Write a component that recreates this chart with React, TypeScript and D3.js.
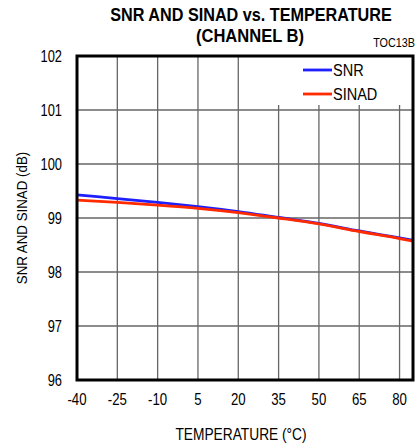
import React from "react";
import * as d3 from "d3";

const temps = [-40, -25, -10, 5, 20, 35, 50, 65, 80, 85];
const snr = [99.43, 99.36, 99.29, 99.21, 99.12, 99.01, 98.9, 98.76, 98.63, 98.59];
const sinad = [99.33, 99.29, 99.24, 99.18, 99.1, 99.0, 98.89, 98.75, 98.62, 98.57];
const xTicks = [-40, -25, -10, 5, 20, 35, 50, 65, 80];
const yTicks = [96, 97, 98, 99, 100, 101, 102];
const seriesNames = ["SNR", "SINAD"];
const seriesColors = ["#1f1fff", "#ff2a00"];

const W = 418, H = 445;
const L = 77, R = 413, T = 56, B = 380;
const FONT = "'Liberation Sans', Arial, sans-serif";

function NText(props: any) {
  const { x, y, size, anchor = "start", weight = "normal", sx = 0.84, rotate = 0, children, fill = "#000" } = props;
  const tr = `translate(${x},${y})` + (rotate ? ` rotate(${rotate})` : "") + ` scale(${sx},1)`;
  return (
    <text transform={tr} fontFamily={FONT} fontSize={size} fontWeight={weight} textAnchor={anchor} fill={fill}>
      {children}
    </text>
  );
}

export default function App() {
  const x = d3.scaleLinear().domain([-40, 85]).range([L, R]);
  const y = d3.scaleLinear().domain([96, 102]).range([B, T]);
  const line = d3
    .line<number>()
    .x((_, i) => x(temps[i]))
    .y((d) => y(d))
    .curve(d3.curveMonotoneX);
  const data = [snr, sinad];

  return (
    <svg width={W} height={H} style={{ position: "absolute", left: 0, top: 0, background: "#fff" }}>
      <rect x={0} y={0} width={W} height={H} fill="#fff" />
      {xTicks.slice(1).map((t) => (
        <line key={"gx" + t} x1={x(t)} x2={x(t)} y1={T} y2={B} stroke="#666" strokeWidth={1.3} />
      ))}
      {yTicks.slice(1, -1).map((t) => (
        <line key={"gy" + t} x1={L} x2={R} y1={y(t)} y2={y(t)} stroke="#666" strokeWidth={1.3} />
      ))}
      <rect x={262} y={T} width={R - 262} height={105 - T} fill="#fff" />
      {data.map((d, i) => (
        <path key={"s" + i} d={line(d) || ""} fill="none" stroke={seriesColors[i]} strokeWidth={2.8} />
      ))}
      <rect x={L} y={T} width={R - L} height={B - T} fill="none" stroke="#000" strokeWidth={3} />
      {seriesNames.map((n, i) => (
        <g key={"lg" + i}>
          <line x1={303} x2={332} y1={70 + i * 24} y2={70 + i * 24} stroke={seriesColors[i]} strokeWidth={2.8} />
          <NText x={333} y={76 + i * 24} size={16.5} sx={0.88}>{n}</NText>
        </g>
      ))}
      {xTicks.map((t) => (
        <NText key={"xt" + t} x={x(t)} y={405} size={16.5} anchor="middle" sx={0.8}>{t}</NText>
      ))}
      {yTicks.map((t) => (
        <NText key={"yt" + t} x={62} y={y(t) + 6} size={16.5} anchor="end" sx={0.78}>{t}</NText>
      ))}
      <NText x={241} y={440} size={16} anchor="middle" sx={0.86}>TEMPERATURE (°C)</NText>
      <NText x={27} y={218} size={15.5} anchor="middle" sx={0.86} rotate={-90}>SNR AND SINAD  (dB)</NText>
      <NText x={251} y={21} size={18} anchor="middle" weight="bold" sx={0.9}>SNR AND SINAD vs. TEMPERATURE</NText>
      <NText x={250} y={42} size={18} anchor="middle" weight="bold" sx={0.92}>(CHANNEL B)</NText>
      <NText x={415} y={47} size={12} anchor="end" sx={0.9}>TOC13B</NText>
    </svg>
  );
}
